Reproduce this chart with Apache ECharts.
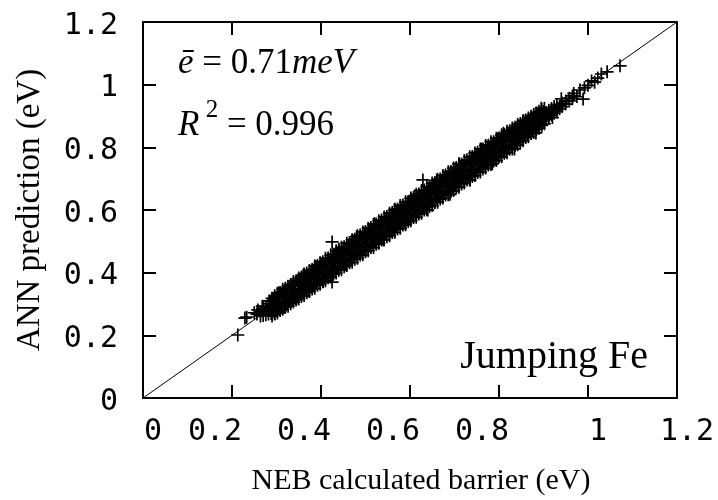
<!DOCTYPE html>
<html><head><meta charset="utf-8">
<script src="https://cdn.jsdelivr.net/npm/echarts@6/dist/echarts.min.js"></script>
<style>html,body{margin:0;padding:0;background:#fff}#c{width:718px;height:500px}</style>
</head><body><div id="c"></div>
<script>
// Tick labels
const xTickLabels = ['0','0.2','0.4','0.6','0.8','1','1.2'];
const yTickLabels = ['0','0.2','0.4','0.6','0.8','1','1.2'];
// Perfect-agreement reference line (data coordinates)
const diagonalLine = [[0,0],[1.2,1.2]];
// Scattered / outlying samples [NEB barrier, ANN prediction] (eV)
const sparseSamples = [
 [0.213,0.201],[0.229,0.255],[0.233,0.258],[0.250,0.272],[0.256,0.268],[0.258,0.281],[0.268,0.293],
 [0.284,0.310],[0.296,0.270],[0.305,0.335],[0.318,0.290],[0.332,0.362],[0.345,0.318],[0.360,0.392],
 [0.372,0.342],[0.388,0.420],[0.405,0.372],[0.425,0.498],[0.425,0.370],[0.440,0.475],[0.455,0.425],
 [0.480,0.515],[0.500,0.470],[0.520,0.556],[0.540,0.505],[0.565,0.600],[0.590,0.555],[0.610,0.645],
 [0.629,0.696],[0.640,0.600],[0.660,0.695],[0.690,0.650],[0.710,0.748],[0.735,0.695],[0.760,0.795],
 [0.785,0.748],[0.810,0.845],[0.835,0.795],[0.855,0.885],[0.883,0.846],[0.895,0.925],[0.920,0.895],
 [0.940,0.955],[0.968,0.972],[0.975,0.962],[0.982,0.983],[0.989,0.954],[0.992,0.990],[1.000,0.998],
 [1.008,1.012],[1.015,1.008],[1.022,1.021],[1.030,1.034],[1.043,1.041],[1.072,1.060]
];
// Dense band of samples: each row is [NEB barrier, ANN predictions read at that barrier...]
const bandRows = [
 [0.264,0.262,0.275],[0.270,0.263,0.279,0.286],[0.276,0.266,0.281,0.291],
 [0.282,0.268,0.279,0.290,0.301],[0.288,0.270,0.285,0.297,0.309],[0.294,0.277,0.291,0.300,0.313],
 [0.300,0.281,0.293,0.309,0.321],[0.306,0.285,0.301,0.312,0.325],[0.312,0.293,0.305,0.320,0.332],
 [0.318,0.296,0.311,0.325,0.337],[0.324,0.301,0.317,0.330,0.345],[0.330,0.309,0.323,0.337,0.349],
 [0.336,0.313,0.328,0.343,0.358],[0.342,0.322,0.335,0.348,0.361],[0.348,0.325,0.340,0.357,0.370],
 [0.354,0.333,0.347,0.360,0.375],[0.360,0.337,0.354,0.366,0.381],[0.366,0.344,0.358,0.373,0.388],
 [0.372,0.349,0.366,0.379,0.393],[0.378,0.355,0.370,0.386,0.399],[0.384,0.362,0.377,0.390,0.406],
 [0.390,0.366,0.382,0.398,0.411],[0.396,0.374,0.388,0.402,0.418],[0.402,0.378,0.395,0.408,0.424],
 [0.408,0.386,0.399,0.415,0.429],[0.414,0.390,0.407,0.420,0.436],[0.420,0.398,0.412,0.427,0.441],
 [0.426,0.402,0.418,0.433,0.448],[0.432,0.410,0.423,0.439,0.453],[0.438,0.414,0.431,0.444,0.460],
 [0.444,0.422,0.436,0.451,0.465],[0.450,0.426,0.442,0.456,0.472],[0.456,0.434,0.447,0.463,0.477],
 [0.462,0.438,0.455,0.468,0.484],[0.468,0.446,0.460,0.475,0.489],[0.474,0.450,0.466,0.481,0.496],
 [0.480,0.458,0.471,0.487,0.501],[0.486,0.462,0.479,0.492,0.508],[0.492,0.470,0.484,0.499,0.513],
 [0.498,0.474,0.490,0.505,0.520],[0.504,0.482,0.495,0.511,0.525],[0.510,0.486,0.503,0.516,0.532],
 [0.516,0.494,0.508,0.523,0.537],[0.522,0.498,0.514,0.529,0.544],[0.528,0.506,0.519,0.535,0.549],
 [0.534,0.510,0.527,0.540,0.556],[0.540,0.518,0.532,0.547,0.561],[0.546,0.522,0.538,0.553,0.568],
 [0.552,0.530,0.543,0.559,0.573],[0.558,0.534,0.551,0.564,0.580],[0.564,0.542,0.556,0.571,0.585],
 [0.570,0.546,0.562,0.577,0.592],[0.576,0.554,0.567,0.583,0.597],[0.582,0.558,0.575,0.588,0.604],
 [0.588,0.566,0.580,0.595,0.609],[0.594,0.570,0.586,0.601,0.616],[0.600,0.578,0.591,0.607,0.621],
 [0.606,0.582,0.599,0.612,0.628],[0.612,0.590,0.604,0.619,0.633],[0.618,0.594,0.610,0.625,0.640],
 [0.624,0.602,0.615,0.631,0.645],[0.630,0.606,0.623,0.636,0.652],[0.636,0.614,0.628,0.643,0.657],
 [0.642,0.618,0.634,0.649,0.664],[0.648,0.626,0.639,0.655,0.669],[0.654,0.630,0.647,0.660,0.676],
 [0.660,0.638,0.652,0.667,0.681],[0.666,0.642,0.658,0.673,0.688],[0.672,0.650,0.663,0.679,0.693],
 [0.678,0.654,0.671,0.684,0.700],[0.684,0.662,0.676,0.691,0.705],[0.690,0.666,0.682,0.697,0.712],
 [0.696,0.674,0.687,0.703,0.717],[0.702,0.678,0.695,0.708,0.724],[0.708,0.686,0.700,0.715,0.729],
 [0.714,0.690,0.706,0.721,0.736],[0.720,0.698,0.711,0.727,0.741],[0.726,0.702,0.719,0.732,0.748],
 [0.732,0.710,0.724,0.739,0.753],[0.738,0.714,0.730,0.745,0.760],[0.744,0.722,0.735,0.751,0.765],
 [0.750,0.726,0.743,0.756,0.772],[0.756,0.734,0.748,0.763,0.777],[0.762,0.738,0.754,0.769,0.784],
 [0.768,0.746,0.759,0.775,0.789],[0.774,0.750,0.767,0.780,0.796],[0.780,0.758,0.772,0.787,0.801],
 [0.786,0.762,0.778,0.793,0.808],[0.792,0.770,0.783,0.799,0.813],[0.798,0.774,0.791,0.804,0.820],
 [0.804,0.782,0.796,0.811,0.825],[0.810,0.786,0.802,0.817,0.832],[0.816,0.794,0.807,0.823,0.837],
 [0.822,0.798,0.815,0.828,0.844],[0.828,0.806,0.820,0.835,0.849],[0.834,0.810,0.826,0.841,0.856],
 [0.840,0.818,0.831,0.847,0.861],[0.846,0.822,0.839,0.852,0.866],[0.852,0.830,0.844,0.859,0.871],
 [0.858,0.836,0.850,0.864,0.876],[0.864,0.843,0.855,0.870,0.882],[0.870,0.849,0.862,0.875,0.887],
 [0.876,0.856,0.867,0.881,0.893],[0.882,0.862,0.874,0.886,0.898],[0.888,0.869,0.879,0.892,0.903],
 [0.894,0.876,0.886,0.899,0.909],[0.900,0.884,0.893,0.906,0.914],[0.906,0.889,0.899,0.911],
 [0.912,0.896,0.905,0.918],[0.918,0.903,0.911,0.924],[0.924,0.909,0.918,0.930],
 [0.930,0.916,0.925,0.936],[0.936,0.923,0.932],[0.942,0.930,0.941],[0.950,0.938,0.948],
 [0.958,0.948,0.957],[0.965,0.955,0.964]
];
// Outer fringe of the band: [NEB barrier, lower ANN prediction, upper ANN prediction]
const bandFringeRows = [
 [0.290,0.262,0.318],[0.296,0.268,0.326],[0.302,0.271,0.334],[0.308,0.279,0.337],[0.314,0.283,0.347],
 [0.320,0.290,0.350],[0.326,0.293,0.357],[0.332,0.301,0.362],[0.338,0.306,0.372],[0.344,0.313,0.374],
 [0.350,0.316,0.383],[0.356,0.324,0.386],[0.362,0.327,0.396],[0.368,0.336,0.399],[0.374,0.340,0.407],
 [0.380,0.348,0.410],[0.386,0.350,0.421],[0.392,0.360,0.423],[0.398,0.363,0.432],[0.404,0.371,0.435],
 [0.410,0.374,0.446],[0.416,0.384,0.447],[0.422,0.386,0.457],[0.428,0.395,0.459],[0.434,0.399,0.470],
 [0.440,0.408,0.472],[0.446,0.409,0.481],[0.452,0.419,0.483],[0.458,0.423,0.494],[0.464,0.432,0.496],
 [0.470,0.433,0.505],[0.476,0.443,0.507],[0.482,0.446,0.518],[0.488,0.456,0.520],[0.494,0.457,0.530],
 [0.500,0.467,0.531],[0.506,0.470,0.542],[0.512,0.480,0.544],[0.518,0.480,0.554],[0.524,0.491,0.555],
 [0.530,0.494,0.566],[0.536,0.504,0.568],[0.542,0.505,0.578],[0.548,0.515,0.579],[0.554,0.518,0.590],
 [0.560,0.528,0.592],[0.566,0.529,0.602],[0.572,0.539,0.603],[0.578,0.542,0.614],[0.584,0.552,0.616],
 [0.590,0.553,0.626],[0.596,0.563,0.627],[0.602,0.566,0.638],[0.608,0.576,0.640],[0.614,0.577,0.650],
 [0.620,0.587,0.651],[0.626,0.590,0.662],[0.632,0.600,0.664],[0.638,0.601,0.674],[0.644,0.611,0.675],
 [0.650,0.614,0.686],[0.656,0.624,0.688],[0.662,0.625,0.698],[0.668,0.635,0.699],[0.674,0.638,0.710],
 [0.680,0.648,0.712],[0.686,0.649,0.722],[0.692,0.659,0.723],[0.698,0.662,0.734],[0.704,0.672,0.736],
 [0.710,0.673,0.746],[0.716,0.683,0.747],[0.722,0.686,0.758],[0.728,0.696,0.760],[0.734,0.697,0.770],
 [0.740,0.707,0.771],[0.746,0.710,0.782],[0.752,0.720,0.784],[0.758,0.721,0.794],[0.764,0.731,0.795],
 [0.770,0.734,0.806],[0.776,0.744,0.807],[0.782,0.745,0.818],[0.788,0.756,0.818],[0.794,0.758,0.829],
 [0.800,0.769,0.830],[0.806,0.770,0.840],[0.812,0.781,0.841],[0.818,0.783,0.851],[0.824,0.794,0.853],
 [0.830,0.795,0.862],[0.836,0.806,0.864],[0.842,0.808,0.873],[0.848,0.819,0.876],[0.854,0.821,0.884],
 [0.860,0.831,0.887],[0.866,0.834,0.894],[0.872,0.844,0.899],[0.878,0.847,0.905],[0.884,0.857,0.910],
 [0.890,0.861,0.915],[0.896,0.870,0.921],[0.902,0.875,0.925]
];

const samples = sparseSamples.slice();
bandRows.concat(bandFringeRows).forEach(function (row) {
  for (let k = 1; k < row.length; k++) samples.push([row[0], row[k]]);
});

const MONO = '"DejaVu Sans Mono", monospace';
const SERIF = '"Liberation Serif", "Times New Roman", serif';

const chart = echarts.init(document.getElementById('c'), null, {renderer: 'canvas'});

function axisCommon(pos, showLabels, labels, isX) {
  const o = {
    type: 'value', min: 0, max: 1.2, interval: 0.2, position: pos,
    splitLine: {show: false},
    axisLine: {show: true, onZero: false, lineStyle: {color: '#000', width: 2}},
    axisTick: {show: true, inside: true, length: 13, lineStyle: {color: '#000', width: 2}},
    axisLabel: {show: showLabels}
  };
  if (showLabels && isX) {
    o.axisLabel = {
      show: true, margin: 19, color: '#000', fontFamily: MONO, fontSize: 30,
      formatter: function (v) {
        const s = labels[Math.round(v / 0.2)];
        return s.indexOf('0.') === 0 ? '{d|' + s + '}' : '{i|' + s + '}';
      },
      rich: {
        d: {fontFamily: MONO, fontSize: 30, color: '#000', padding: [0, 34, 0, 0]},
        i: {fontFamily: MONO, fontSize: 30, color: '#000', padding: [0, 0, 0, 20]}
      }
    };
  } else if (showLabels) {
    o.axisLabel = {
      show: true, margin: 25, color: '#000', fontFamily: MONO, fontSize: 30,
      formatter: function (v) { return '{y|' + labels[Math.round(v / 0.2)] + '}'; },
      rich: {y: {fontFamily: MONO, fontSize: 30, color: '#000', padding: [8, 0, 0, 0]}}
    };
  }
  return o;
}

const xBottom = axisCommon('bottom', true, xTickLabels, true);
xBottom.name = 'NEB calculated barrier (eV)';
xBottom.nameLocation = 'middle';
xBottom.nameGap = 68;
xBottom.nameTextStyle = {fontFamily: SERIF, fontSize: 30, color: '#000', padding: [0, 0, 0, 22]};

const yLeft = axisCommon('left', true, yTickLabels, false);
yLeft.name = 'ANN prediction (eV)';
yLeft.nameLocation = 'middle';
yLeft.nameGap = 96;
yLeft.nameRotate = 90;
yLeft.nameTextStyle = {fontFamily: SERIF, fontSize: 33, color: '#000'};

const option = {
  animation: false,
  backgroundColor: '#fff',
  grid: {left: 143, right: 41, top: 22, bottom: 102, containLabel: false, outerBoundsMode: 'none'},
  xAxis: [xBottom, axisCommon('top', false, xTickLabels, true)],
  yAxis: [yLeft, axisCommon('right', false, yTickLabels, false)],
  series: [
    {
      type: 'line', xAxisIndex: 0, yAxisIndex: 0, data: diagonalLine,
      showSymbol: false, symbol: 'none', silent: true,
      lineStyle: {color: '#000', width: 1}, z: 3
    },
    {
      type: 'scatter', xAxisIndex: 0, yAxisIndex: 0, data: samples,
      symbol: 'path://M5,0L5,10M0,5L10,5', symbolSize: 13,
      progressive: 0, large: false, silent: true,
      itemStyle: {color: 'rgba(0,0,0,0)', borderColor: '#000', borderWidth: 1.7, opacity: 1},
      z: 2
    }
  ],
  graphic: [
    {
      type: 'text', x: 178, y: 64,
      style: {
        text: '{i|ē}{n| = 0.71}{i|meV}',
        align: 'left', verticalAlign: 'middle', textAlign: 'left', textVerticalAlign: 'middle',
        rich: {
          i: {fontFamily: SERIF, fontStyle: 'italic', fontSize: 35, fill: '#000', color: '#000'},
          n: {fontFamily: SERIF, fontSize: 35, fill: '#000', color: '#000'}
        }
      }
    },
    {
      type: 'text', x: 178, y: 126,
      style: {
        text: '{r|R}{s| 2}{n| = 0.996}',
        align: 'left', verticalAlign: 'middle', textAlign: 'left', textVerticalAlign: 'middle',
        rich: {
          r: {fontFamily: SERIF, fontStyle: 'italic', fontSize: 35, lineHeight: 56, fill: '#000', color: '#000'},
          s: {fontFamily: SERIF, fontSize: 25, verticalAlign: 'top', lineHeight: 25, fill: '#000', color: '#000'},
          n: {fontFamily: SERIF, fontSize: 35, lineHeight: 56, fill: '#000', color: '#000'}
        }
      }
    },
    {
      type: 'text', x: 648, y: 357,
      style: {
        text: 'Jumping Fe', font: '40px "Liberation Serif", serif', fill: '#000',
        align: 'right', verticalAlign: 'middle', textAlign: 'right', textVerticalAlign: 'middle'
      }
    }
  ]
};
chart.setOption(option);
</script>
</body></html>
